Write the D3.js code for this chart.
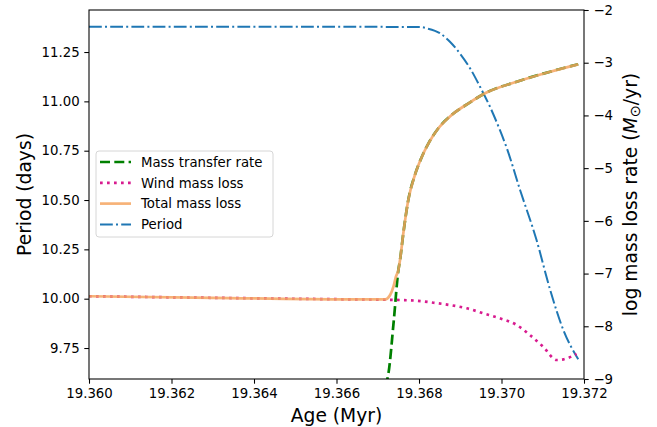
<!DOCTYPE html>
<html>
<head>
<meta charset="utf-8">
<script src="https://cdn.jsdelivr.net/npm/d3@7"></script>
<style>
  body { margin: 0; background: #fff; }
  svg text { font-family: "DejaVu Sans", sans-serif; }
</style>
</head>
<body>
<div id="chart"></div>
<script>
// Age (Myr) vs orbital period (days), left axis
const periodAge = [19.360, 19.3650, 19.36802, 19.36819, 19.36851, 19.36875, 19.36899, 19.36924, 19.36948, 19.36972, 19.36996, 19.37013, 19.37045, 19.37085, 19.37118, 19.37150, 19.37186];
const periodVal = [11.378, 11.378, 11.377, 11.370, 11.345, 11.302, 11.243, 11.167, 11.074, 10.973, 10.855, 10.762, 10.551, 10.297, 10.044, 9.841, 9.693];

// Age vs log mass loss rates, right axis
const transferAge = [19.36718, 19.36726, 19.36739, 19.36750, 19.36754, 19.36762, 19.36774, 19.36790, 19.36807, 19.36823, 19.36847, 19.36879, 19.36920, 19.36960, 19.37037, 19.37118, 19.37186];
const transferVal = [-9.15, -8.89, -7.88, -6.933, -6.743, -6.236, -5.605, -5.130, -4.783, -4.529, -4.244, -3.992, -3.770, -3.580, -3.360, -3.170, -3.030];

const windAge = [19.360, 19.3630, 19.36633, 19.36714, 19.36754, 19.36794, 19.36835, 19.36875, 19.36916, 19.36956, 19.36996, 19.37037, 19.37069, 19.37101, 19.37134, 19.37150, 19.37182];
const windVal = [-7.43, -7.46, -7.489, -7.495, -7.502, -7.515, -7.553, -7.597, -7.659, -7.754, -7.849, -7.976, -8.166, -8.388, -8.640, -8.627, -8.526];

const totalAge = [19.360, 19.3630, 19.36633, 19.36718, 19.36730, 19.36738, 19.36744, 19.36750, 19.36754, 19.36762, 19.36774, 19.36790, 19.36807, 19.36823, 19.36847, 19.36879, 19.36920, 19.36960, 19.37037, 19.37118, 19.37186];
const totalVal = [-7.43, -7.46, -7.489, -7.489, -7.407, -7.249, -7.060, -6.933, -6.743, -6.236, -5.605, -5.130, -4.783, -4.529, -4.244, -3.992, -3.770, -3.580, -3.360, -3.170, -3.030];

const xTicks = [19.360, 19.362, 19.364, 19.366, 19.368, 19.370, 19.372];
const leftTicks = [9.75, 10.00, 10.25, 10.50, 10.75, 11.00, 11.25];
const rightTicks = [-9, -8, -7, -6, -5, -4, -3, -2];

const W = 657, H = 427;
const margin = { top: 10, left: 89, right: 73, bottom: 48 };
const width = W - margin.left - margin.right,
      height = H - margin.top - margin.bottom;

const svg = d3.select("#chart").append("svg")
  .attr("width", W).attr("height", H);

const g = svg.append("g")
  .attr("transform", `translate(${margin.left},${margin.top})`);

const x = d3.scaleLinear().domain([19.360, 19.372]).range([0, width]);
const yL = d3.scaleLinear().domain([9.593, 11.463]).range([height, 0]);
const yR = d3.scaleLinear().domain([-9, -2]).range([height, 0]);

g.append("clipPath").attr("id", "clip")
  .append("rect").attr("width", width).attr("height", height);

const plot = g.append("g").attr("clip-path", "url(#clip)");

const lineOf = (xs, ys, yScale) => d3.line()
  .x((d, i) => x(xs[i]))
  .y((d, i) => yScale(ys[i]))
  .curve(d3.curveMonotoneX)(xs);

const series = [
  { label: "Mass transfer rate", d: lineOf(transferAge, transferVal, yR), color: "#008000", w: 2.7, dash: "10,4.3", op: 1 },
  { label: "Wind mass loss", d: lineOf(windAge, windVal, yR), color: "#d81b8f", w: 2.7, dash: "2.7,4.3", op: 1 },
  { label: "Total mass loss", d: lineOf(totalAge, totalVal, yR), color: "#f4a460", w: 2.7, dash: null, op: 0.85 },
  { label: "Period", d: lineOf(periodAge, periodVal, yL), color: "#1f77b4", w: 2, dash: "12.8,3.2,2,3.2", op: 1 }
];

// period first (underlying axes), then mass-loss curves on the twin axes
[series[3], series[0], series[1], series[2]].forEach(s => {
  plot.append("path")
    .attr("d", s.d)
    .attr("fill", "none")
    .attr("stroke", s.color)
    .attr("stroke-width", s.w)
    .attr("stroke-opacity", s.op)
    .attr("stroke-dasharray", s.dash);
});

const fs = 13.3;
const styleAxis = sel => {
  sel.select(".domain").remove();
  sel.selectAll("line").attr("stroke", "#000").attr("stroke-width", 1.07);
  sel.selectAll("text").attr("font-size", fs).attr("fill", "#000");
};

g.append("g")
  .attr("transform", `translate(0,${height})`)
  .call(d3.axisBottom(x).tickValues(xTicks).tickFormat(d3.format(".3f")).tickSize(4.7).tickPadding(4.7))
  .call(styleAxis);

g.append("g")
  .call(d3.axisLeft(yL).tickValues(leftTicks).tickFormat(d3.format(".2f")).tickSize(4.7).tickPadding(4.7))
  .call(styleAxis);

g.append("g")
  .attr("transform", `translate(${width},0)`)
  .call(d3.axisRight(yR).tickValues(rightTicks).tickFormat(d => d < 0 ? "\u2212" + Math.abs(d) : d).tickSize(4.7).tickPadding(4.7))
  .call(styleAxis);

// frame
g.append("rect")
  .attr("width", width).attr("height", height)
  .attr("fill", "none").attr("stroke", "#000").attr("stroke-width", 1.07);

// axis labels
svg.append("text")
  .attr("x", margin.left + width / 2).attr("y", 422)
  .attr("text-anchor", "middle").attr("font-size", 18.7)
  .text("Age (Myr)");

svg.append("text")
  .attr("transform", `translate(31,${margin.top + height / 2}) rotate(-90)`)
  .attr("text-anchor", "middle").attr("font-size", 18.7)
  .text("Period (days)");

const rl = svg.append("text")
  .attr("transform", `translate(637,${margin.top + height / 2}) rotate(-90)`)
  .attr("text-anchor", "middle").attr("font-size", 18.7);
rl.append("tspan").text("log mass loss rate (");
rl.append("tspan").attr("font-style", "italic").text("M");
rl.append("tspan").attr("font-size", 14.5).attr("dy", 2.5).text("\u2299");
rl.append("tspan").attr("dy", -2.5).text("/yr)");

// legend
const legend = svg.append("g").attr("transform", "translate(96,151)");
legend.append("rect")
  .attr("width", 177).attr("height", 86).attr("rx", 3)
  .attr("fill", "#fff").attr("fill-opacity", 0.8)
  .attr("stroke", "#d6d6d6").attr("stroke-width", 1);

series.forEach((s, i) => {
  const yy = 11 + i * 20.8;
  legend.append("line")
    .attr("x1", 4).attr("x2", 35).attr("y1", yy).attr("y2", yy)
    .attr("stroke", s.color).attr("stroke-width", s.w)
    .attr("stroke-opacity", s.op)
    .attr("stroke-dasharray", s.dash);
  legend.append("text")
    .attr("x", 45).attr("y", yy).attr("dy", "0.36em")
    .attr("font-size", fs)
    .text(s.label);
});
</script>
</body>
</html>
